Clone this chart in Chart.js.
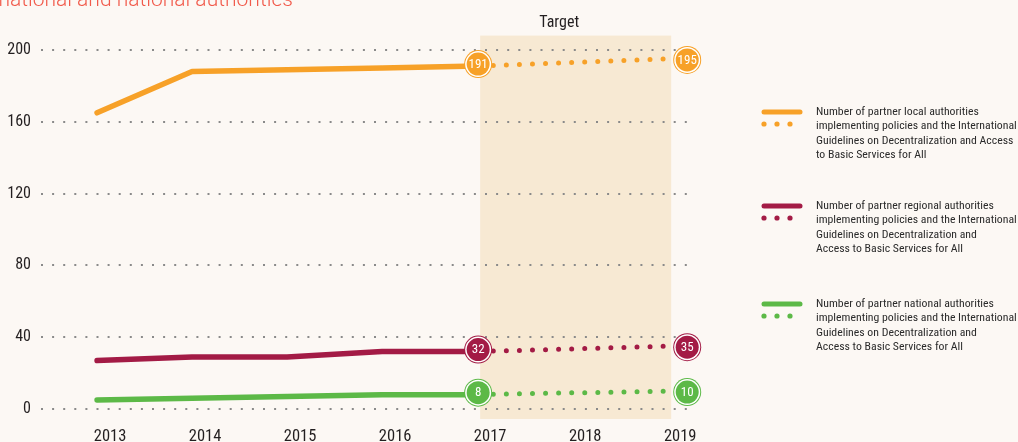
<!DOCTYPE html>
<html>
<head>
<meta charset="utf-8">
<script src="https://cdn.jsdelivr.net/npm/chart.js@4/dist/chart.umd.min.js"></script>
<style>
  html, body { margin:0; padding:0; background:#fcf8f4; }
  #wrap { position:relative; width:1018px; height:442px; }
</style>
</head>
<body>
<div id="wrap"><canvas id="c" width="1018" height="442"></canvas></div>
<script>
// ---- data ----
const years = [2013, 2014, 2015, 2016, 2017, 2018, 2019];
const actualYears = [2013, 2014, 2015, 2016, 2017];
const targetYears = [2017, 2019];
const localActual = [165, 188, 189, 190, 191];
const localTarget = [191, 195];
const regionalActual = [27, 29, 29, 32, 32];
const regionalTarget = [32, 35];
const nationalActual = [5, 6, 7, 8, 8];
const nationalTarget = [8, 10];
const yTicks = [0, 40, 80, 120, 160, 200];
const titleText = "national and national authorities";
const targetLabel = "Target";
const legendTexts = [
  ["Number of partner local authorities", "implementing policies and the International", "Guidelines on Decentralization and Access", "to Basic Services for All"],
  ["Number of partner regional authorities", "implementing policies and the International", "Guidelines on Decentralization and", "Access to Basic Services for All"],
  ["Number of partner national authorities", "implementing policies and the International", "Guidelines on Decentralization and", "Access to Basic Services for All"]
];
const seriesColors = ["#f7a128", "#a31b45", "#5cb947"];

const COND = "'Roboto Condensed', 'Liberation Sans Narrow', 'DejaVu Sans Condensed', sans-serif";

function pts(xs, ys) { return xs.map((x, i) => ({ x: x, y: ys[i] })); }

const groups = [
  { actual: localActual, target: localTarget },
  { actual: regionalActual, target: regionalTarget },
  { actual: nationalActual, target: nationalTarget }
];

const datasets = [];
groups.forEach((g, i) => {
  datasets.push({
    data: pts(actualYears, g.actual),
    borderColor: seriesColors[i],
    borderWidth: 5.5,
    borderCapStyle: 'round',
    borderJoinStyle: 'round',
    pointRadius: 0,
    tension: 0
  });
  datasets.push({
    data: pts(targetYears, g.target),
    borderColor: seriesColors[i],
    borderWidth: 5,
    borderCapStyle: 'round',
    borderDash: [0, 13.07],
    borderDashOffset: 10,
    pointRadius: 0,
    tension: 0
  });
});

const bgPlugin = {
  id: 'bg',
  beforeDraw(chart) {
    const { ctx, chartArea, scales } = chart;
    ctx.save();
    ctx.fillStyle = '#fcf8f4';
    ctx.fillRect(0, 0, chart.width, chart.height);
    const x0 = scales.x.getPixelForValue(2017) + 3;
    const x1 = scales.x.getPixelForValue(2019) + 4;
    ctx.fillStyle = '#f7e9d3';
    ctx.fillRect(x0, chartArea.top, x1 - x0, chartArea.bottom - chartArea.top + 1);
    ctx.restore();
  }
};

function bubble(ctx, x, y, color, text) {
  ctx.save();
  ctx.beginPath();
  ctx.arc(x, y, 14, 0, Math.PI * 2);
  ctx.fillStyle = color;
  ctx.fill();
  ctx.beginPath();
  ctx.arc(x, y, 13, 0, Math.PI * 2);
  ctx.fillStyle = '#ffffff';
  ctx.fill();
  ctx.beginPath();
  ctx.arc(x, y, 11.5, 0, Math.PI * 2);
  ctx.fillStyle = color;
  ctx.fill();
  ctx.fillStyle = '#ffffff';
  ctx.font = "13px " + COND;
  ctx.textAlign = 'center';
  ctx.textBaseline = 'middle';
  ctx.fillText(text, x, y + 0.5);
  ctx.restore();
}

const decoPlugin = {
  id: 'deco',
  afterDatasetsDraw(chart) {
    const { ctx, scales } = chart;
    const xs = scales.x, ys = scales.y;
    groups.forEach((g, i) => {
      const aLast = g.actual[g.actual.length - 1];
      bubble(ctx, xs.getPixelForValue(actualYears[actualYears.length - 1]) + 1, ys.getPixelForValue(aLast) - 2, seriesColors[i], String(aLast));
      const tLast = g.target[g.target.length - 1];
      bubble(ctx, xs.getPixelForValue(targetYears[targetYears.length - 1]) + 20, ys.getPixelForValue(tLast) + 1, seriesColors[i], String(tLast));
    });
  },
  afterDraw(chart) {
    const { ctx, scales } = chart;
    ctx.save();
    // title (partially visible, cut by the top edge)
    ctx.fillStyle = '#f15a4b';
    ctx.font = "300 21px Roboto, 'Liberation Sans', sans-serif";
    ctx.textAlign = 'right';
    ctx.textBaseline = 'alphabetic';
    ctx.fillText(titleText, 293, 6);
    // Target label
    ctx.fillStyle = '#231f20';
    ctx.font = "16px " + COND;
    ctx.textAlign = 'center';
    ctx.textBaseline = 'middle';
    ctx.fillText(targetLabel, scales.x.getPixelForValue(2018) - 13, 23);
    // legend: size the condensed face so the longest line spans ~201px
    ctx.font = "12px " + COND;
    const longest = Math.max(...legendTexts.flat().map(t => ctx.measureText(t).width));
    const lsize = Math.min(13.5, 12 * 201 / longest);
    const tops = [112, 206, 304];
    legendTexts.forEach((lines, i) => {
      const y = tops[i];
      ctx.strokeStyle = seriesColors[i];
      ctx.lineCap = 'round';
      ctx.lineWidth = 5;
      ctx.beginPath();
      ctx.moveTo(764, y);
      ctx.lineTo(800, y);
      ctx.stroke();
      ctx.fillStyle = seriesColors[i];
      [764, 777, 790].forEach(dx => {
        ctx.beginPath();
        ctx.arc(dx, y + 12, 2.6, 0, Math.PI * 2);
        ctx.fill();
      });
      ctx.fillStyle = '#2b2b2b';
      ctx.font = lsize + "px " + COND;
      ctx.textAlign = 'left';
      ctx.textBaseline = 'middle';
      lines.forEach((t, k) => ctx.fillText(t, 816, y + k * 14.5, 201));
    });
    ctx.restore();
  }
};

new Chart(document.getElementById('c'), {
  type: 'line',
  data: { datasets: datasets },
  options: {
    responsive: false,
    animation: false,
    events: [],
    layout: { padding: { top: 35.6, right: 328, left: 0, bottom: 0 } },
    plugins: { legend: { display: false }, tooltip: { enabled: false }, title: { display: false } },
    elements: { line: { fill: false } },
    scales: {
      x: {
        type: 'linear',
        min: 2012.41,
        max: 2019.24,
        afterBuildTicks: (s) => { s.ticks = years.map(v => ({ value: v })); },
        afterFit: (s) => { s.height = 24; },
        grid: { display: false, drawTicks: false },
        border: { display: false },
        ticks: {
          padding: 9,
          labelOffset: 13,
          autoSkip: false,
          maxRotation: 0,
          color: '#231f20',
          font: { family: COND, size: 16.5 },
          callback: (v) => String(v)
        }
      },
      y: {
        type: 'linear',
        min: -5,
        max: 208,
        afterBuildTicks: (s) => { s.ticks = yTicks.map(v => ({ value: v })); },
        afterFit: (s) => { s.width = 41; },
        grid: { color: '#8a8a8a', lineWidth: 2, drawTicks: false },
        border: { display: false, dash: [2, 9.1] },
        ticks: {
          padding: 10,
          color: '#231f20',
          font: { family: COND, size: 16 },
          callback: (v) => String(v)
        }
      }
    }
  },
  plugins: [bgPlugin, decoPlugin]
});
</script>
</body>
</html>
